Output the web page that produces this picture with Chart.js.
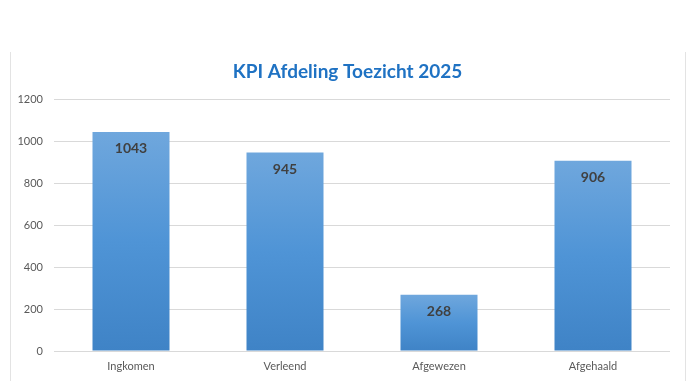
<!DOCTYPE html>
<html>
<head>
<meta charset="utf-8">
<script src="https://cdn.jsdelivr.net/npm/chart.js@4"></script>
<style>
  html, body { margin: 0; padding: 0; background: #fff; }
  #wrap { position: relative; width: 695px; height: 391px; }
  #frame { position: absolute; left: 10px; top: 52px; width: 674px; height: 329px;
           border-left: 1px solid #e3e3e3; border-right: 1px solid #e3e3e3; }
  canvas { position: absolute; left: 0; top: 0; }
</style>
</head>
<body>
<div id="wrap">
  <div id="frame"></div>
  <canvas id="kpiChart" width="695" height="391"></canvas>
</div>
<script>
// KPI data
var categories = ['Ingkomen', 'Verleend', 'Afgewezen', 'Afgehaald'];
var values = [1043, 945, 268, 906];
var yTicks = [0, 200, 400, 600, 800, 1000, 1200];
var chartTitle = 'KPI Afdeling Toezicht 2025';

var FONT = 'Lato, "Open Sans", sans-serif';

// gradient per bar, light at top, darker at the base
function barFill(ctx) {
    var chart = ctx.chart;
    if (!chart.chartArea || !chart.scales.y) return '#5b9bd5';
    var v = ctx.raw;
    var top = chart.scales.y.getPixelForValue(v);
    var base = chart.scales.y.getPixelForValue(0);
    if (!isFinite(top) || !isFinite(base) || top === base) return '#5b9bd5';
    var g = chart.ctx.createLinearGradient(0, top, 0, base);
    g.addColorStop(0, '#6fa7dd');
    g.addColorStop(0.5, '#4f94d6');
    g.addColorStop(1, '#3f83c6');
    return g;
}

// value labels inside the top of each bar
var valueLabels = {
    id: 'valueLabels',
    afterDatasetsDraw: function(chart) {
        var ctx = chart.ctx;
        var meta = chart.getDatasetMeta(0);
        ctx.save();
        ctx.font = 'bold 14px ' + FONT;
        ctx.fillStyle = '#404040';
        ctx.textAlign = 'center';
        ctx.textBaseline = 'middle';
        meta.data.forEach(function(bar, i) {
            ctx.fillText(values[i], bar.x, bar.y + 17);
        });
        ctx.restore();
    }
};

// title centred on the whole frame, not just the plot
var centerTitle = {
    id: 'centerTitle',
    afterDraw: function(chart) {
        var ctx = chart.ctx;
        ctx.save();
        ctx.font = 'bold 19px ' + FONT;
        ctx.fillStyle = '#1f72c3';
        ctx.textAlign = 'center';
        ctx.textBaseline = 'middle';
        ctx.fillText(chartTitle, chart.width / 2, 72);
        ctx.restore();
    }
};

new Chart(document.getElementById('kpiChart'), {
    type: 'bar',
    data: {
        labels: categories,
        datasets: [{
            data: values,
            backgroundColor: barFill,
            borderWidth: 0,
            categoryPercentage: 1,
            barPercentage: 0.5
        }]
    },
    options: {
        responsive: false,
        animation: false,
        layout: { padding: { left: 0, right: 25, top: 99, bottom: 0 } },
        plugins: {
            legend: { display: false },
            tooltip: { enabled: false },
            title: { display: false }
        },
        scales: {
            x: {
                grid: { display: false },
                border: { display: false },
                ticks: { color: '#595959', font: { family: FONT, size: 11 }, padding: 1 },
                afterFit: function(axis) { axis.height = 40; }
            },
            y: {
                min: 0,
                max: 1200,
                afterBuildTicks: function(axis) {
                    axis.ticks = yTicks.map(function(v) { return { value: v }; });
                },
                grid: { color: '#d9d9d9', drawTicks: false },
                border: { display: false },
                ticks: {
                    color: '#595959',
                    font: { family: FONT, size: 11 },
                    padding: 11,
                    callback: function(v) { return String(v); }
                },
                afterFit: function(axis) { axis.width = 54; }
            }
        }
    },
    plugins: [valueLabels, centerTitle]
});
</script>
</body>
</html>
